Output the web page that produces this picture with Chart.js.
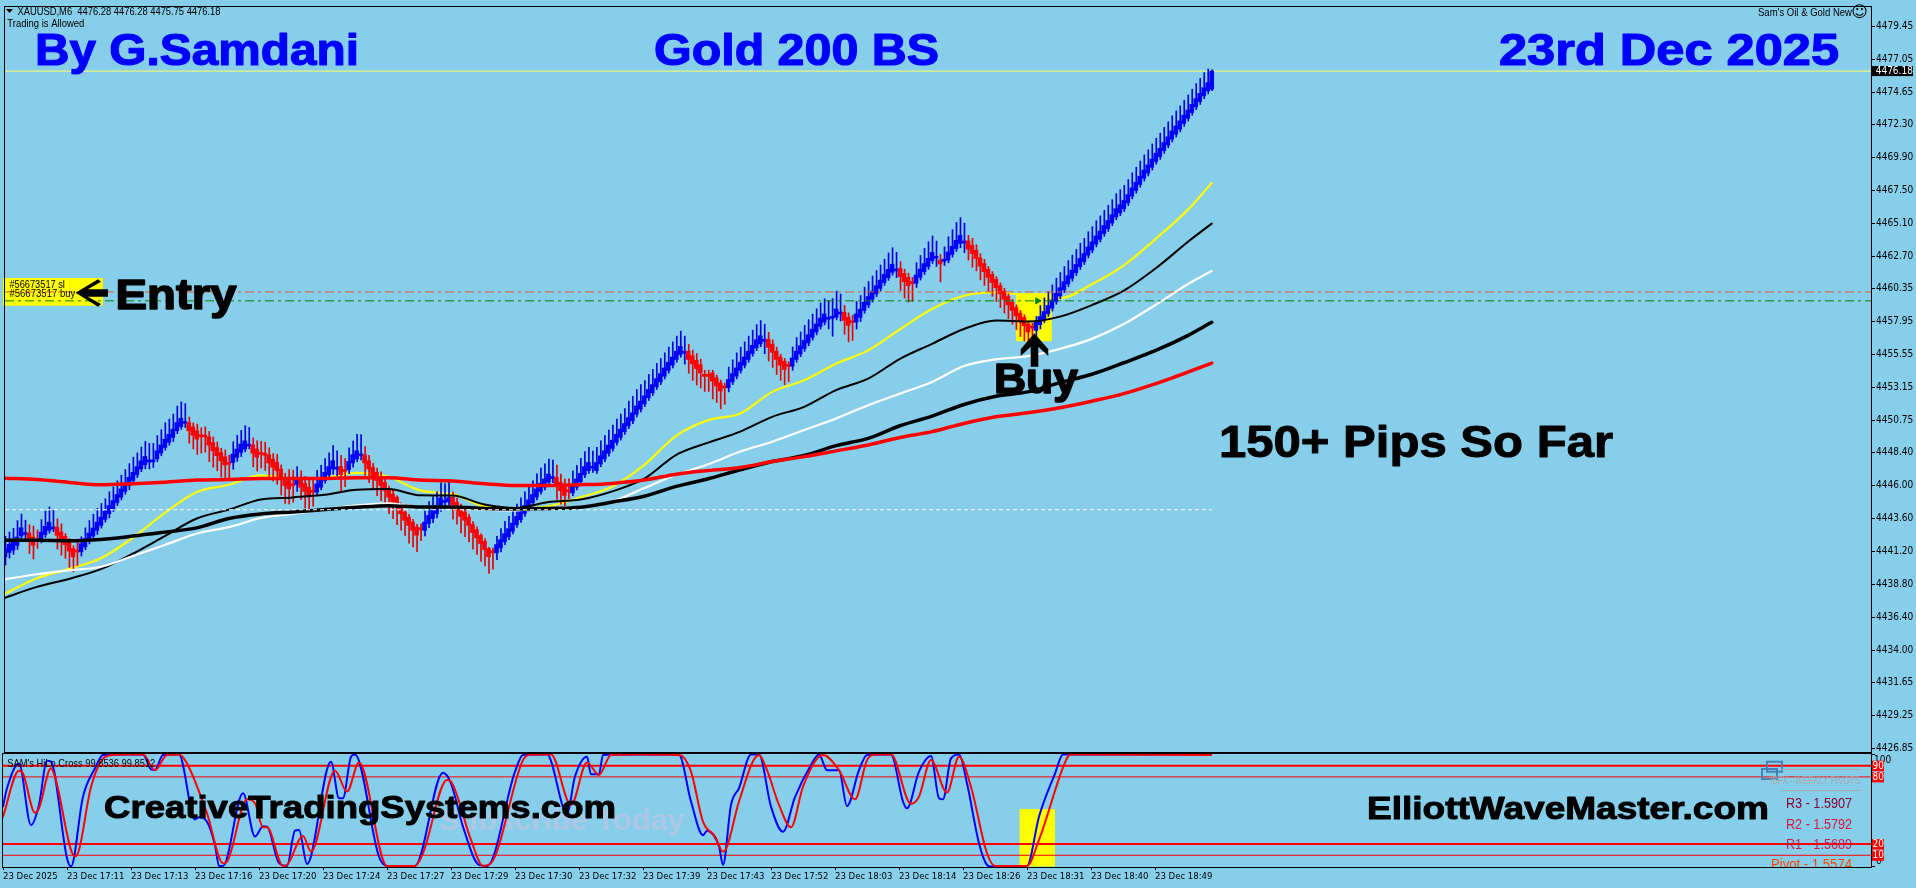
<!DOCTYPE html>
<html><head><meta charset="utf-8">
<style>html,body{margin:0;padding:0;background:#87CEEB;overflow:hidden}canvas{position:absolute;left:0;top:0}</style>
<script src="https://cdn.jsdelivr.net/npm/chart.js@4/dist/chart.umd.min.js"></script>
</head><body>
<canvas id="main" width="1916" height="888"></canvas>
<canvas id="sub" width="1916" height="888"></canvas>
<script>
const priceTicks=[4479.45,4477.05,4474.65,4472.30,4469.90,4467.50,4465.10,4462.70,4460.35,4457.95,4455.55,4453.15,4450.75,4448.40,4446.00,4443.60,4441.20,4438.80,4436.40,4434.00,4431.65,4429.25,4426.85];
const timeLabels=["23 Dec 2025","23 Dec 17:11","23 Dec 17:13","23 Dec 17:16","23 Dec 17:20","23 Dec 17:24","23 Dec 17:27","23 Dec 17:29","23 Dec 17:30","23 Dec 17:32","23 Dec 17:39","23 Dec 17:43","23 Dec 17:52","23 Dec 18:03","23 Dec 18:14","23 Dec 18:26","23 Dec 18:31","23 Dec 18:40","23 Dec 18:49"];
const timeLabelBars=[0,16,32,48,64,80,96,112,128,144,160,176,192,208,224,240,256,272,288];
const candleMid=[
4441.09,4441.40,4441.57,4441.93,4442.61,4442.49,4442.23,4441.93,4441.98,4442.30,
4442.71,4443.02,4442.90,4442.66,4442.30,4441.98,4441.52,4441.09,4441.21,4441.45,
4441.81,4442.23,4442.59,4443.02,4443.38,4443.82,4444.23,4444.59,4445.03,4445.44,
4445.85,4446.28,4446.65,4447.06,4447.49,4447.80,4447.78,4447.78,4448.22,4448.65,
4449.06,4449.42,4449.79,4450.27,4450.58,4450.58,4450.27,4449.95,4449.66,4449.62,
4449.59,4449.23,4448.82,4448.46,4448.09,4447.78,4447.61,4447.97,4448.34,4448.70,
4448.94,4448.94,4448.65,4448.34,4448.34,4448.26,4447.93,4447.61,4447.37,4446.89,
4446.28,4446.04,4446.04,4446.21,4446.16,4445.85,4445.56,4445.56,4445.80,4446.16,
4446.65,4447.06,4447.49,4447.25,4447.08,4447.08,4447.44,4447.93,4448.22,4448.22,
4447.93,4447.49,4447.01,4446.65,4446.28,4445.92,4445.44,4445.07,4444.83,4444.23,
4443.75,4443.38,4443.02,4442.66,4442.83,4443.02,4443.51,4443.87,4444.23,4444.79,
4444.83,4444.95,4444.83,4444.47,4444.04,4443.75,4443.38,4442.85,4442.47,4442.06,
4441.62,4441.09,4441.16,4441.38,4441.74,4442.18,4442.54,4442.95,4443.43,4443.79,
4444.23,4444.64,4445.03,4445.44,4445.85,4446.16,4446.52,4446.57,4446.28,4445.92,
4445.56,4445.61,4445.75,4446.16,4446.57,4447.06,4447.37,4447.32,4447.37,4447.85,
4448.22,4448.63,4448.99,4449.42,4449.79,4450.20,4450.63,4450.99,4451.48,4451.84,
4452.23,4452.68,4453.04,4453.48,4453.84,4454.25,4454.67,4455.05,4455.47,4455.83,
4455.70,4455.47,4455.15,4454.81,4454.49,4454.01,4454.01,4453.89,4453.53,4453.17,
4453.17,4453.41,4453.84,4454.25,4454.67,4455.05,4455.47,4455.90,4456.31,4456.60,
4456.57,4456.35,4455.99,4455.47,4455.05,4454.74,4454.74,4454.98,4455.47,4455.87,
4456.26,4456.67,4457.08,4457.46,4457.88,4458.19,4458.17,4458.24,4458.55,4458.55,
4458.31,4457.95,4457.92,4458.19,4458.53,4459.04,4459.45,4459.85,4460.25,4460.65,
4461.07,4461.43,4461.81,4461.70,4461.50,4461.14,4460.85,4460.78,4461.02,4461.45,
4461.86,4462.24,4462.67,4462.62,4462.27,4462.39,4462.71,4463.12,4463.55,4463.91,
4463.72,4463.51,4463.19,4462.83,4462.27,4461.86,4461.45,4461.07,4460.70,4460.25,
4459.85,4459.45,4459.04,4458.65,4458.24,4457.93,4457.47,4457.52,4457.59,4458.00,
4458.36,4458.80,4459.20,4459.69,4460.10,4460.54,4460.97,4461.38,4461.79,4462.23,
4462.59,4463.07,4463.44,4463.87,4464.23,4464.64,4465.00,4465.41,4465.85,4466.14,
4466.45,4466.88,4467.37,4467.78,4468.22,4468.67,4469.04,4469.47,4469.89,4470.25,
4470.68,4471.09,4471.52,4471.88,4472.25,4472.66,4473.04,4473.46,4473.87,4474.25,
4474.67,4475.03,4475.52];
const candleBody=[
.6,.6,.6,.6,.6,.15,-.6,-.6,-.15,.6,
.6,.6,.15,-.6,-.6,-.6,-.6,-.6,-.15,.6,
.6,.6,.6,.6,.6,.6,.6,.6,.6,.6,
.6,.6,.6,.6,.6,.6,.15,.15,.6,.6,
.6,.6,.6,.6,.6,.15,-.6,-.6,-.6,-.15,
-.15,-.6,-.6,-.6,-.6,-.6,-.15,.6,.6,.6,
.6,.15,-.6,-.6,-.15,-.15,-.6,-.6,-.6,-.6,
-.6,-.6,-.15,.3,-.6,-.6,-.6,-.15,.6,.6,
.6,.6,.6,.15,-.6,-.15,.6,.6,.6,.15,
-.6,-.6,-.6,-.6,-.6,-.6,-.6,-.6,-.6,-.6,
-.6,-.6,-.6,-.6,-.15,.6,.6,.6,.6,.6,
.15,.3,-.6,-.6,-.6,-.6,-.6,-.6,-.6,-.6,
-.6,-.6,-.15,.6,.6,.6,.6,.6,.6,.6,
.6,.6,.6,.6,.6,.6,.6,.15,-.6,-.6,
-.6,-.15,.6,.6,.6,.6,.6,.15,.6,.6,
.6,.6,.6,.6,.6,.6,.6,.6,.6,.6,
.6,.6,.6,.6,.6,.6,.6,.6,.6,.6,
.15,-.6,-.6,-.6,-.6,-.15,-.15,-.6,-.6,-.6,
-.15,.6,.6,.6,.6,.6,.6,.6,.6,.6,
.15,-.6,-.6,-.6,-.6,-.6,-.15,.6,.6,.6,
.6,.6,.6,.6,.6,.6,.15,.15,.6,.15,
-.6,-.6,-.15,.6,.6,.6,.6,.6,.6,.6,
.6,.6,.6,.15,-.6,-.6,-.6,-.15,.6,.6,
.6,.6,.6,.15,-.3,.15,.6,.6,.6,.6,
.15,-.6,-.6,-.6,-.6,-.6,-.6,-.6,-.6,-.6,
-.6,-.6,-.6,-.6,-.6,-.6,-.6,-.15,.6,.6,
.6,.6,.6,.6,.6,.6,.6,.6,.6,.6,
.6,.6,.6,.6,.6,.6,.6,.6,.6,.6,
.6,.6,.6,.6,.6,.6,.6,.6,.6,.6,
.6,.6,.6,.6,.6,.6,.6,.6,.6,.6,
.6,.6,1.32];
const upperWick=[
.9,.9,1,1.2,1,.9,.6,.8,.7,.9,
1.1,1.1,1.2,.6,.6,.2,.3,.2,.8,.5,
.8,.9,1,1,1,.9,1,1,1,1,
1,1,1.1,1,1,1.1,1.2,1.2,1.1,1.1,
1.2,1.1,1.1,1.2,1.2,1.3,.4,.3,.5,.5,
.6,.4,.4,.4,.3,.5,.5,.9,1,1,
1.1,1.2,.5,.6,.8,.8,.5,.4,.6,.3,
.3,.8,1,1,.6,.5,.6,.8,1,1,
1,1,1.1,1.2,.8,.8,1,1,1.2,1.4,
.6,.4,.3,.3,.4,.4,.2,.3,.1,.2,
.1,.2,.2,.2,.3,.8,1,1,1,1.1,
1.2,1.3,.4,.3,.3,.2,.2,.2,.2,.1,
.2,.1,.2,.6,.8,.9,.9,.9,.9,1,
1,1,1,1.1,1.1,1.1,1.1,1.2,.9,.6,
.6,.8,1,1,1.1,1.1,1.1,1.1,1.1,1.1,
1.1,1.1,1.1,1.1,1.1,1.1,1.2,1.2,1.2,1.2,
1.1,1.1,1.1,1.1,1.1,1.1,1.1,1.1,1.1,1.1,
1.1,.5,.4,.5,.4,.3,.3,.2,.2,.2,
.2,.9,1,1.1,1.1,1.1,1.1,1.1,1.1,1.1,
1.1,.5,.3,.3,.2,.2,.2,.8,1,1,
1.1,1.1,1.1,1.1,1.1,1.1,1.2,1.3,1.3,1.3,
.5,.3,.4,.9,1,1.1,1.1,1.1,1.1,1.1,
1.1,1.2,1.2,1.2,.5,.3,.3,.3,.9,1,
1.1,1.2,1.2,1.1,.4,.9,1.1,1.2,1.3,1.3,
1.3,.4,.5,.4,.3,.3,.2,.2,.2,.2,
.2,.2,.2,.2,.2,.2,.2,.2,.4,.8,
1,1,1.1,1.1,1.1,1.1,1.1,1.1,1.1,1.1,
1.1,1.1,1.1,1.1,1.1,1.1,1.1,1.1,1.1,1.1,
1.1,1.1,1.1,1.1,1.1,1.1,1.1,1.1,1.1,1.1,
1.1,1.1,1.1,1.1,1.1,1.1,1.1,1.1,1.1,1.1,
1.1,1,.1];
const lowerWick=[
.6,.4,.3,.3,.2,.3,.9,1,.5,.2,
.2,.2,.2,1,1.1,1,1.2,1.1,1,.3,
.2,.2,.2,.3,.2,.2,.3,.2,.2,.2,
.2,.3,.2,.2,.2,.3,.5,.4,.2,.2,
.2,.2,.3,.2,.2,.3,.9,1,1.1,1.2,
1.1,1.2,1.2,1.1,1.2,1.1,1.1,.5,.3,.3,
.2,.2,1,1,1,1.1,1,1,1,1.3,
1.3,1.1,1.2,.5,.9,1.2,1.2,1,.2,.2,
.2,.3,.4,.5,1.2,1.1,.3,.3,.2,.3,
.9,1,1,1.1,1.1,1.1,1.2,1.2,1.4,1.2,
1.1,1.3,1.2,1.2,.8,.4,.3,.3,.3,.4,
.4,.4,1,1,1.2,1.2,1.2,1.2,1.2,1.3,
1.2,1.2,1.2,.5,.3,.2,.2,.2,.2,.2,
.2,.2,.2,.2,.2,.2,.2,.3,1,1,
1,.5,.2,.2,.2,.2,.2,.3,.2,.2,
.2,.2,.2,.2,.2,.2,.2,.2,.2,.2,
.2,.2,.2,.2,.2,.2,.2,.2,.2,.2,
.8,1,1.2,1.2,1.1,1.1,1.1,1.3,1.2,1.3,
1.2,.3,.2,.2,.2,.2,.2,.2,.2,.2,
.9,1,1.1,1.1,1.1,1.1,1.1,.3,.2,.2,
.2,.2,.2,.2,.2,.2,.7,1.3,.2,.5,
1,1.2,1.3,.5,.3,.2,.2,.2,.2,.2,
.2,.2,.2,.5,1,1.2,1.2,1.3,.3,.2,
.2,.2,.2,.6,1.3,.3,.2,.2,.2,.3,
.7,.8,1,.9,1,1,1,1,1,1,
1,1,1,1,1.1,1.1,1,1,.6,.3,
.2,.2,.2,.2,.2,.2,.2,.2,.2,.2,
.2,.2,.2,.2,.2,.2,.2,.2,.2,.2,
.2,.2,.2,.2,.2,.2,.2,.2,.2,.2,
.2,.2,.2,.2,.2,.2,.2,.2,.2,.2,
.2,.2,.1];
const maBars=[0,8,16,24,32,40,48,56,64,72,80,88,96,104,112,120,128,136,144,152,160,168,176,184,192,200,208,216,224,232,240,248,256,264,272,280,288,296,302];
const maYellow=[4438.10,4439.23,4439.91,4440.68,4442.18,4443.99,4445.51,4446.04,4446.72,4446.50,4446.57,4446.91,4446.62,4445.61,4445.36,4444.47,4444.31,4444.47,4445.12,4445.92,4447.49,4449.62,4450.75,4451.23,4452.81,4453.65,4454.86,4455.83,4457.37,4458.84,4459.81,4460.05,4459.83,4459.62,4460.65,4462.03,4463.96,4466.07,4468.02];
const maBlackThin=[4437.81,4438.60,4439.18,4439.89,4441.02,4442.30,4443.58,4444.23,4444.96,4445.12,4445.32,4445.68,4445.73,4445.27,4445.25,4444.60,4444.35,4444.78,4444.96,4445.56,4446.48,4448.22,4449.11,4449.91,4450.99,4451.72,4452.93,4453.77,4455.22,4456.31,4457.39,4458.00,4457.93,4458.29,4459.13,4460.18,4461.81,4463.73,4465.07];
const maWhite=[4439.16,4439.52,4439.81,4440.07,4440.85,4441.65,4442.49,4442.95,4443.62,4443.91,4444.23,4444.54,4444.69,4444.42,4444.45,4444.23,4444.18,4444.35,4444.45,4444.83,4445.80,4446.77,4447.54,4448.46,4449.18,4450.03,4450.87,4451.84,4452.68,4453.53,4454.69,4455.18,4455.41,4455.94,4456.67,4457.75,4459.16,4460.65,4461.62];
const maBlackThick=[4441.99,4441.99,4441.96,4442.06,4442.30,4442.59,4442.90,4443.58,4443.91,4444.06,4444.23,4444.40,4444.52,4444.42,4444.42,4444.31,4444.28,4444.31,4444.40,4444.78,4445.20,4445.92,4446.48,4447.13,4447.73,4448.17,4448.89,4449.42,4450.34,4451.04,4451.89,4452.49,4452.81,4453.48,4454.09,4454.93,4455.83,4456.91,4457.88];
const maRed=[4446.52,4446.43,4446.21,4446.04,4446.12,4446.23,4446.38,4446.43,4446.50,4446.50,4446.50,4446.55,4446.55,4446.38,4446.31,4446.12,4445.99,4445.99,4446.04,4446.14,4446.38,4446.81,4447.08,4447.30,4447.73,4448.09,4448.51,4448.94,4449.49,4449.91,4450.51,4450.99,4451.28,4451.65,4452.13,4452.68,4453.41,4454.25,4454.91];
const currentPrice=[4476.18];
const stopLevel=[4460.09];
const buyLevel=[4459.44];
const pivotDash=[4444.22];
const buyBoxBars=[253,262];
const buyBoxPrices=[4456.50,4460.00];
const buyMarkBar=[258.4];
const oscBoxBars=[254.15,263];
const oscBoxValues=[0,51.3];
const oscLevels=[90,80,20,10];
const oscLevelWidths=[2,1,2,1];
const stochBlueBars=[0,1,4,7,9,11,12,16,17,20,23,25,27,35,37,38,40,44,48,49,51,53,54,55,60,63,65,66,69,71,73,74,76,82,84,85,87,88,94,96,103,110,112,115,119,121,128,130,136,141,143,146,147,149,150,159,169,172,175,176,179,180,182,184,187,189,192,195,198,202,204,206,209,211,214,216,222,225,226,229,232,234,235,237,239,241,244,246,247,256,259,263,265,302];
const stochBlue=[53.5,69.8,92,37,55,94.5,93.6,7.3,0,62.4,87.7,99.6,100,100,86.8,86.2,99.6,100,42,44,40,19,0.5,0.5,65.4,26.7,36,35.6,3,0.5,32,32.6,2.3,93.6,61,61,98,100,8.8,0.5,0.5,83.8,74.3,35.6,1.4,0.5,84.7,99.6,100,47.5,80.3,98,82.3,82.3,99.6,100,99.6,58,28,32,18,1.4,55,70,100,100,53.5,31,62,90.7,100,86,86,54,86,99.6,100,58,52,84.7,98.7,61,60,96.6,100,74.3,20.7,1.4,0,0.5,44.5,83,100,100];
const stochRedBars=[0,4,5,8,9,12,13,18,19,22,26,30,35,38,41,44,46,51,55,56,61,63,65,66,70,71,75,77,83,86,89,96,103,105,111,112,117,120,122,130,132,137,142,146,149,152,159,169,172,175,178,180,181,184,189,191,194,197,200,205,209,213,216,218,222,227,229,232,236,239,242,246,248,256,259,266,267,302];
const stochRed=[44.5,85.6,83,48,52,87.7,80,9,14.8,71,98.7,100,100,86,99.6,100,92,47.5,3,4.4,60,56.5,35,35,0.5,1.4,27.3,13.3,85.6,66.9,92.8,0.5,0.5,11.8,77.3,75.8,23.7,0.5,3,95,100,100,55,92.8,81.7,99.6,100,99.6,84.7,40,26.7,13.3,17.8,58,99.6,86,55,35,71.3,99.6,86,60,95,100,100,56,62.4,95,66,98,71,11.8,0.5,0.5,23.7,96.6,100,99.6];

const BLUE='#0000ff',RED='#ff0000',XMAX=467;
const n=candleMid.length;
const opens=candleMid.map((m,i)=>+(m-candleBody[i]/2).toFixed(2));
const closes=candleMid.map((m,i)=>+(m+candleBody[i]/2).toFixed(2));
const highs=opens.map((o,i)=>Math.max(o,closes[i])+upperWick[i]);
const lows=opens.map((o,i)=>Math.min(o,closes[i])-lowerWick[i]);
const pts=(xs,ys)=>xs.map((x,i)=>({x,y:ys[i]}));
const line=(xs,ys,color,width,order,extra)=>Object.assign({type:'line',data:pts(xs,ys),borderColor:color,borderWidth:width,pointRadius:0,order,cubicInterpolationMode:'monotone',borderCapStyle:'round'},extra||{});
const hline=(v,color,width,order,dash,x1)=>({type:'line',data:[{x:0,y:v},{x:x1===undefined?XMAX:x1,y:v}],borderColor:color,borderWidth:width,pointRadius:0,order,borderDash:dash||[]});

const UIFONT='"DejaVu Sans Condensed","DejaVu Sans",sans-serif';
function txt(ctx,text,x,y,w,size,color,bold,stroke){
  ctx.save();
  ctx.font=(bold?'bold ':'')+size+'px "Liberation Sans"';
  ctx.textBaseline='alphabetic';ctx.textAlign='left';
  const m=ctx.measureText(text).width;
  ctx.translate(x,y);ctx.scale(w/m,1);
  ctx.fillStyle=color;ctx.fillText(text,0,0);
  if(stroke){ctx.strokeStyle=color;ctx.lineWidth=stroke;ctx.lineJoin='round';ctx.strokeText(text,0,0);}
  ctx.restore();
}
function poly(ctx,p,color){ctx.beginPath();p.forEach((q,i)=>i?ctx.lineTo(q[0],q[1]):ctx.moveTo(q[0],q[1]));ctx.closePath();ctx.fillStyle=color;ctx.fill();}
function frame(ctx,a){ctx.save();ctx.strokeStyle='#000';ctx.lineWidth=1;ctx.strokeRect(a.left-.5,a.top-.5,a.right-a.left+1,a.bottom-a.top+1);ctx.restore();}

const mainPlugin={id:'mainDecor',
 beforeDatasetsDraw(c){
  const {ctx,scales:{x,y}}=c;
  ctx.save();ctx.fillStyle='#ffff00';
  ctx.fillRect(3,278,100,27.7);
  const l=x.getPixelForValue(buyBoxBars[0]),r=x.getPixelForValue(buyBoxBars[1]);
  const t=y.getPixelForValue(buyBoxPrices[1]),b=y.getPixelForValue(buyBoxPrices[0]);
  ctx.fillRect(l,t,r-l,b-t);ctx.restore();
 },
 afterDatasetsDraw(c){
  const {ctx,chartArea:a,scales:{y}}=c;
  frame(ctx,a);
  txt(ctx,'#56673517 sl',9.4,287.5,55.5,11,'#000');
  txt(ctx,'#56673517 buy',9.4,296.5,66,11,'#000');
  poly(ctx,[[6,9],[13,9],[9.5,13]],'#000');
  txt(ctx,'XAUUSD,M6  4476.28 4476.28 4475.75 4476.18',17.5,14.5,203,11.5,'#000');
  txt(ctx,'Trading is Allowed',7.3,27,77,11.5,'#000');
  txt(ctx,"Sam's Oil & Gold New",1758,15.5,94,11.5,'#000');
  ctx.save();ctx.font='16px "DejaVu Sans"';ctx.fillStyle='#000';ctx.textAlign='center';ctx.textBaseline='middle';ctx.fillText('\u263A',1859.5,12.5);ctx.restore();
  txt(ctx,'By G.Samdani',35,65,324,45,BLUE,true,1.2);
  txt(ctx,'Gold 200 BS',654,65,285,45,BLUE,true,1.2);
  txt(ctx,'23rd Dec 2025',1499,65,340,45,BLUE,true,1.2);
  txt(ctx,'Entry',115.5,309.3,121,43,'#000',true,1.6);
  txt(ctx,'Buy',994,392.7,84,42,'#000',true,1.6);
  txt(ctx,'150+ Pips So Far',1219,457,394,45,'#000',true,1);
  poly(ctx,[[75.5,292.7],[98,279.3],[101,281.7],[87.8,289.3],[108,289.3],[108,296.7],[87.8,296.7],[101,304],[98,306.7]],'#000');
  poly(ctx,[[1034.3,333.3],[1048.3,349.3],[1048.3,356],[1038.3,346.7],[1038.3,366.7],[1030.7,366.7],[1030.7,346.7],[1020.7,356],[1020.7,349.3]],'#000');
  const py=y.getPixelForValue(currentPrice[0]);
  ctx.save();ctx.fillStyle='#000';ctx.fillRect(1872,py-5,41,10);
  ctx.fillStyle='#fff';ctx.font='10px '+UIFONT;ctx.textBaseline='middle';ctx.textAlign='left';ctx.fillText(currentPrice[0].toFixed(2),1875.7,py+.5);ctx.restore();
 }};

const subPlugin={id:'subDecor',
 beforeDatasetsDraw(c){
  const {ctx,scales:{x,y}}=c;
  ctx.save();
  txt(ctx,'Subscribe Today',439,830,246,30,'#adc8e6',true);
  ctx.fillStyle='#ffff00';
  const l=x.getPixelForValue(oscBoxBars[0]),r=x.getPixelForValue(oscBoxBars[1]);
  const t=y.getPixelForValue(oscBoxValues[1]),b=y.getPixelForValue(oscBoxValues[0]);
  ctx.fillRect(l,t,r-l,b-t);
  ctx.restore();
 },
 afterDatasetsDraw(c){
  const {ctx,chartArea:a,scales:{y}}=c;
  frame(ctx,a);
  txt(ctx,"SAM's HiLo.Cross 99.8536 99.8512",7.3,766.5,148,11.5,'#000');
  txt(ctx,'CreativeTradingSystems.com',104,818.3,512,31,'#000',true,1);
  txt(ctx,'ElliottWaveMaster.com',1367,818.5,402,31,'#000',true,1);
  ctx.save();
  ctx.strokeStyle='#4682b4';ctx.lineWidth=2;
  ctx.strokeRect(1767,761.7,15,10);ctx.strokeRect(1762,769,15,10);
  ctx.strokeStyle='#a9a9a9';ctx.lineWidth=1;
  ctx.beginPath();ctx.moveTo(1781,769.5);ctx.lineTo(1860,769.5);ctx.moveTo(1781,790.5);ctx.lineTo(1860,790.5);ctx.stroke();
  ctx.restore();
  txt(ctx,'IBFX - WEEKLY PIVOTS',1770,784,90,11,'#a9a9a9');
  txt(ctx,'R3 - 1.5907',1786,808,66,15,'#8b0030');
  txt(ctx,'R2 - 1.5792',1786,828.5,66,15,'#dc143c');
  txt(ctx,'R1 - 1.5689',1786,848.5,66,15,'#cc1a50');
  ctx.save();ctx.beginPath();ctx.rect(0,850,1871,17);ctx.clip();
  txt(ctx,'Pivot - 1.5574',1771,868.5,81,15,'#ff4500');
  ctx.restore();
  ctx.save();
  ctx.font='10px '+UIFONT;ctx.textBaseline='middle';ctx.textAlign='left';
  ctx.fillStyle='#000';ctx.fillText('100',1874,760.5);ctx.fillText('0',1876,861);
  ctx.fillRect(1872,754,3,1);ctx.fillRect(1872,866,3,1);
  oscLevels.forEach(v=>{const p=y.getPixelForValue(v);
    ctx.fillStyle='#ff0000';ctx.fillRect(1872,p-5,12,10.5);
    ctx.fillStyle='#fff';ctx.fillText(String(v),1872.5,p+.5);});
  ctx.restore();
 }};

new Chart(document.getElementById('main'),{
 type:'bar',
 plugins:[mainPlugin],
 data:{datasets:[
  hline(currentPrice[0],'#ffff66',1,9),
  line(maBars,maYellow,'#ffff00',2.2,8),
  {type:'bar',xAxisID:'xw',data:lows.map((l,i)=>({x:i,y:[l,highs[i]]})),backgroundColor:candleBody.map(b=>b>0?'#0000dc':'#e60000'),barPercentage:1,categoryPercentage:1,maxBarThickness:1,grouped:false,order:7},
  {type:'bar',data:opens.map((o,i)=>({x:i,y:[Math.min(o,closes[i]),Math.max(o,closes[i])]})),backgroundColor:candleBody.map(b=>b>0?BLUE:RED),barPercentage:1,categoryPercentage:1,maxBarThickness:4,grouped:false,order:6},
  line(maBars,maBlackThin,'#000',2,5),
  line(maBars,maWhite,'#fff',2.2,4),
  line(maBars,maBlackThick,'#000',3.5,3),
  line(maBars,maRed,'#ff0000',3.5,2),
  hline(stopLevel[0],'#e2552d',1,1,[9,4,3,4]),
  hline(buyLevel[0],'#008000',1,1,[9,4,3,4]),
  hline(pivotDash[0],'#ffffff',1,1,[4,3],n-1),
  {type:'scatter',data:[{x:buyMarkBar[0],y:buyLevel[0]}],pointStyle:'triangle',rotation:90,radius:3.5,backgroundColor:'#008000',borderColor:'#008000',order:0}
 ]},
 options:{
  responsive:false,animation:false,devicePixelRatio:1,
  layout:{padding:{left:3,top:3,right:0,bottom:136}},
  plugins:{legend:{display:false},tooltip:{enabled:false},title:{display:false}},
  scales:{
   x:{type:'linear',min:0,max:XMAX,offset:false,display:false,grid:{offset:false}},
   xw:{type:'linear',min:-0.125,max:XMAX-0.125,offset:false,display:false,grid:{offset:false}},
   y:{position:'right',min:4426.57,max:4480.85,
     afterBuildTicks(s){s.ticks=priceTicks.map(v=>({value:v}));},
     afterFit(s){s.width=45;},
     border:{display:false},
     grid:{drawOnChartArea:false,drawTicks:true,tickLength:4,color:'#000'},
     ticks:{autoSkip:false,padding:1,color:'#000',font:{family:UIFONT,size:10},callback:v=>Number(v).toFixed(2)}}
  }}
});

new Chart(document.getElementById('sub'),{
 type:'line',
 plugins:[subPlugin],
 data:{datasets:[
  ...oscLevels.map((v,i)=>hline(v,'#ff0000',oscLevelWidths[i],3)),
  line(stochBlueBars,stochBlue,'#0000ff',2,2),
  line(stochRedBars,stochRed,'#ff0000',2,1)
 ]},
 options:{
  responsive:false,animation:false,devicePixelRatio:1,
  layout:{padding:{left:3,top:754,right:0,bottom:0}},
  plugins:{legend:{display:false},tooltip:{enabled:false},title:{display:false}},
  scales:{
   x:{type:'linear',position:'bottom',min:0,max:XMAX,offset:false,
     afterBuildTicks(s){s.ticks=timeLabelBars.map(v=>({value:v}));},
     afterFit(s){s.height=21;},
     border:{display:false},
     grid:{drawOnChartArea:false,drawTicks:true,tickLength:3,color:'#000'},
     ticks:{autoSkip:false,maxRotation:0,minRotation:0,align:'start',padding:1,color:'#000',font:{family:UIFONT,size:9.5},
       callback:v=>timeLabels[timeLabelBars.indexOf(v)]}},
   y:{position:'right',min:-0.45,max:100.45,
     afterFit(s){s.width=45;},
     border:{display:false},grid:{display:false},
     ticks:{display:false}}
  }}
});
</script>
</body></html>
